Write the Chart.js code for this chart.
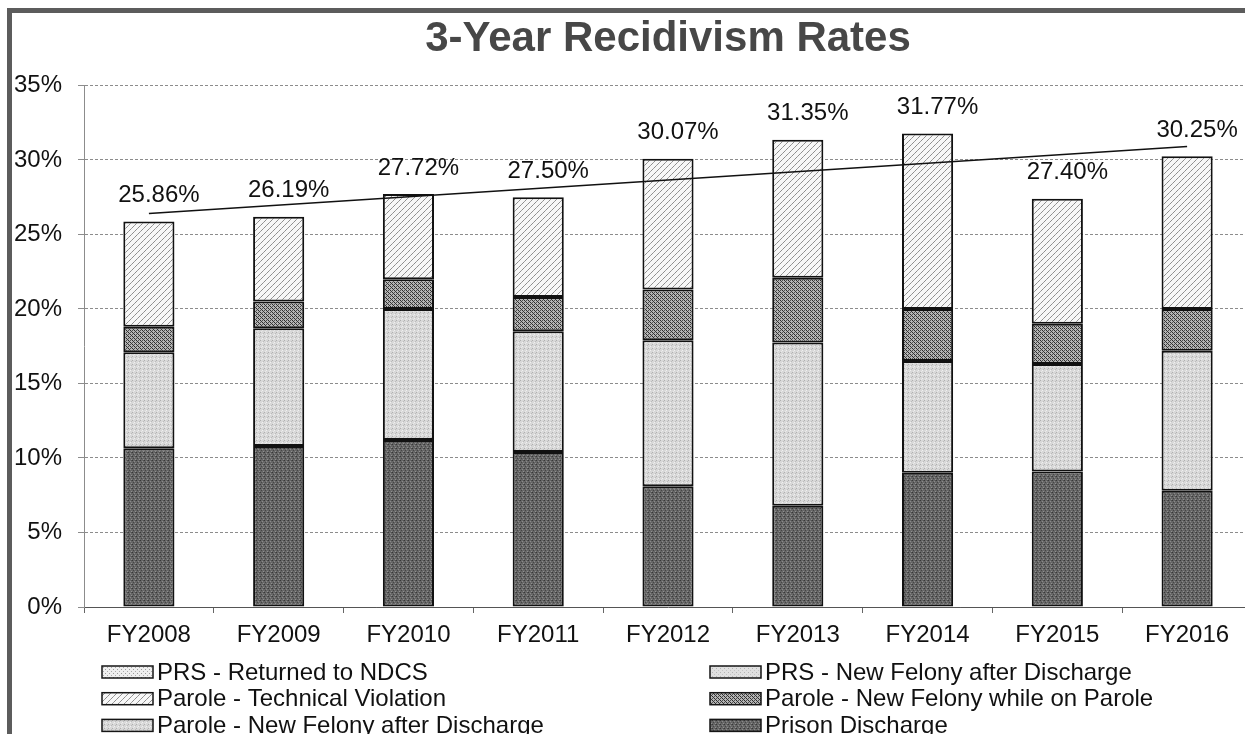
<!DOCTYPE html>
<html>
<head>
<meta charset="utf-8">
<title>3-Year Recidivism Rates</title>
<script src="https://cdn.jsdelivr.net/npm/chart.js@4.4.1/dist/chart.umd.min.js"></script>
<style>
html, body { margin: 0; padding: 0; background: #fff; overflow: hidden; }
#frame { position: absolute; left: 7px; top: 8px; width: 1260px; height: 740px;
  border-top: 5px solid #5c5c5c; border-left: 5px solid #5c5c5c; }
#wrap { position: absolute; left: 0; top: 0; width: 1252px; height: 734px; }
</style>
</head>
<body>
<div id="frame"></div>
<div id="wrap"><canvas id="recidChart"></canvas></div>
<script>
// data (percent)
let years = ["FY2008", "FY2009", "FY2010", "FY2011", "FY2012", "FY2013", "FY2014", "FY2015", "FY2016"];
let totals = [25.86, 26.19, 27.72, 27.50, 30.07, 31.35, 31.77, 27.40, 30.25];
let prisonDischarge = [10.65, 10.8, 11.2, 10.4, 8.1, 6.8, 9.0, 9.1, 7.8];
let paroleAfterDischarge = [6.45, 7.9, 8.8, 8.1, 9.8, 10.95, 7.5, 7.2, 9.4];
let paroleWhileOnParole = [1.7, 1.8, 2.0, 2.3, 3.4, 4.35, 3.5, 2.7, 2.8];
let paroleTechnical = [7.06, 5.69, 5.72, 6.70, 8.77, 9.25, 11.77, 8.40, 10.25];
let prsNewFelony = [0, 0, 0, 0, 0, 0, 0, 0, 0];
let prsReturned = [0, 0, 0, 0, 0, 0, 0, 0, 0];
// linear trend line ends (FY2008, FY2016)
let trendEnds = [26.4, 30.9];

let FONT = "'Liberation Sans', Arial, sans-serif";
Chart.defaults.font.family = FONT;
Chart.defaults.color = "#111";

let canvas = document.getElementById("recidChart");
let ctx = canvas.getContext("2d");

// small tiles to mimic the printed fill patterns
function makePattern(size, base, dots) {
  let c = document.createElement("canvas");
  c.width = size; c.height = size;
  let g = c.getContext("2d");
  g.fillStyle = base;
  g.fillRect(0, 0, size, size);
  dots.forEach(d => { g.fillStyle = d[2]; g.fillRect(d[0], d[1], 1, 1); });
  return ctx.createPattern(c, "repeat");
}

let darkFill = makePattern(4, "#666666", [[0,0,"#383838"],[2,1,"#8a8a8a"],[1,2,"#454545"],[3,3,"#909090"],[3,0,"#505050"]]);
let lightFill = makePattern(4, "#d8d8d8", [[0,0,"#b0b0b0"],[2,2,"#f0f0f0"],[3,1,"#bcbcbc"],[1,3,"#e9e9e9"]]);
let crossFill = makePattern(4, "#b4b4b4", [[0,0,"#2a2a2a"],[1,1,"#363636"],[2,2,"#2a2a2a"],[3,3,"#363636"],[2,0,"#505050"],[0,2,"#505050"]]);
let diagFill = makePattern(6, "#f7f7f7", [[0,5,"#8e8e8e"],[1,4,"#8e8e8e"],[2,3,"#a2a2a2"],[3,2,"#8e8e8e"],[4,1,"#8e8e8e"],[5,0,"#a2a2a2"]]);
let prsFelFill = makePattern(4, "#e0e0e0", [[0,0,"#b4b4b4"],[2,2,"#c4c4c4"]]);
let prsRetFill = makePattern(4, "#efefef", [[1,1,"#9c9c9c"],[3,3,"#aaaaaa"]]);

function barSet(label, data, fill) {
  return {
    label: label,
    data: data,
    backgroundColor: fill,
    borderColor: "#111",
    borderWidth: 2,
    borderSkipped: false,
    stack: "all",
    order: 1
  };
}

// total labels above each column
const totalLabels = {
  id: "totalLabels",
  afterDatasetsDraw(chart) {
    let c = chart.ctx, xs = chart.scales.x, ys = chart.scales.y;
    c.save();
    c.font = "24px " + FONT;
    c.fillStyle = "#111";
    c.textAlign = "center";
    c.textBaseline = "middle";
    totals.forEach((t, i) => {
      c.fillText(t.toFixed(2) + "%", xs.getPixelForValue(i) + 10, ys.getPixelForValue(t) - 26);
    });
    c.restore();
  }
};

// two-column legend like the original
const gridLegend = {
  id: "gridLegend",
  afterDraw(chart) {
    let c = chart.ctx;
    let items = chart.data.datasets.filter(d => d.type !== "line").slice().reverse();
    c.save();
    c.font = "24px " + FONT;
    c.textBaseline = "middle";
    items.forEach((ds, i) => {
      let bx = (i % 2) ? 710 : 102;
      let y = 672 + Math.floor(i / 2) * 26.7;
      c.fillStyle = ds.backgroundColor;
      c.fillRect(bx, y - 6, 51, 12);
      c.strokeStyle = "#151515";
      c.lineWidth = 1.5;
      c.strokeRect(bx, y - 6, 51, 12);
      c.fillStyle = "#111";
      c.fillText(ds.label, bx + 55, y + 1);
    });
    c.restore();
  }
};

new Chart(ctx, {
  type: "bar",
  data: {
    labels: years,
    datasets: [
      {
        type: "line",
        label: "Trend",
        data: [{ x: years[0], y: trendEnds[0] }, { x: years[years.length - 1], y: trendEnds[1] }],
        borderColor: "#111",
        borderWidth: 1.6,
        pointRadius: 0,
        fill: false,
        order: 0
      },
      barSet("Prison Discharge", prisonDischarge, darkFill),
      barSet("Parole - New Felony after Discharge", paroleAfterDischarge, lightFill),
      barSet("Parole - New Felony while on Parole", paroleWhileOnParole, crossFill),
      barSet("Parole - Technical Violation", paroleTechnical, diagFill),
      barSet("PRS - New Felony after Discharge", prsNewFelony, prsFelFill),
      barSet("PRS - Returned to NDCS", prsReturned, prsRetFill)
    ]
  },
  options: {
    responsive: true,
    maintainAspectRatio: false,
    animation: false,
    layout: { padding: { left: 0, right: 0, top: 0, bottom: 84 } },
    datasets: { bar: { categoryPercentage: 1, barPercentage: 0.394 } },
    plugins: {
      legend: { display: false },
      tooltip: { enabled: false },
      title: {
        display: true,
        text: "3-Year Recidivism Rates",
        fullSize: false,
        color: "#474747",
        font: { size: 42, weight: "bold", family: FONT },
        padding: { top: 14, bottom: 21 }
      }
    },
    scales: {
      x: {
        stacked: true,
        grid: { drawOnChartArea: false, drawTicks: true, tickLength: 6, tickColor: "#666" },
        border: { display: true, color: "#555", width: 1 },
        ticks: { font: { size: 24 }, color: "#111", padding: 8, maxRotation: 0 },
        afterFit(s) { s.height = 43; }
      },
      y: {
        stacked: true,
        min: 0,
        max: 35,
        grid: { color: "#8c8c8c", lineWidth: 1, tickLength: 6, tickColor: "#8c8c8c" },
        border: { display: true, color: "#8c8c8c", dash: [3, 2] },
        ticks: {
          stepSize: 5,
          font: { size: 24 },
          color: "#111",
          padding: 16,
          callback: v => v + "%"
        },
        afterFit(s) { s.width = 84; }
      }
    }
  },
  plugins: [totalLabels, gridLegend]
});
</script>
</body>
</html>
